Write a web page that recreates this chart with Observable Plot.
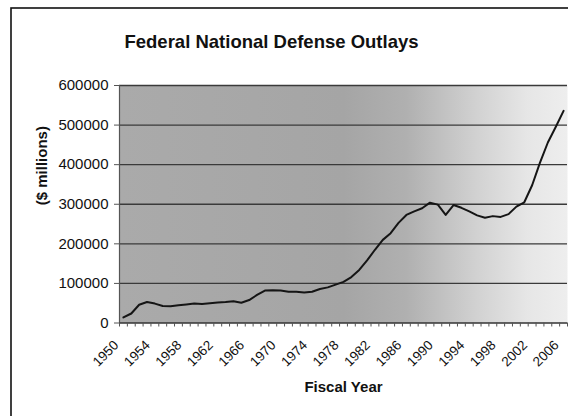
<!DOCTYPE html>
<html>
<head>
<meta charset="utf-8">
<script src="https://cdn.jsdelivr.net/npm/d3@7"></script>
<script src="https://cdn.jsdelivr.net/npm/@observablehq/plot@0.6"></script>
<style>
  html, body { margin: 0; padding: 0; background: #fff; }
  #chart svg { display: block; }
</style>
</head>
<body>
<div id="chart"></div>
<script>
// Federal national defense outlays by fiscal year, $ millions
const years = d3.range(1950, 2007);
const outlays = [
  14000, 24000, 46000, 53000, 49000, 43000, 42500, 45000, 47000, 49000,
  48000, 50000, 52000, 53000, 55000, 51000, 58000, 71000, 82000, 82500,
  82000, 79000, 79000, 77000, 79000, 86000, 90000, 97000, 104000, 116000,
  134000, 158000, 185000, 210000, 227000, 253000, 273000, 282000, 290000, 304000,
  299000, 273000, 298000, 291000, 282000, 272000, 266000, 270000, 268000, 275000,
  294000, 305000, 348000, 405000, 456000, 495000, 536000
];
const yTicks = [0, 100000, 200000, 300000, 400000, 500000, 600000];
const labelYears = d3.range(1950, 2007, 4);
const title = "Federal National Defense Outlays";
const yTitle = "($ millions)";
const xTitle = "Fiscal Year";

const data = years.map((year, i) => ({year, value: outlays[i]}));
// category boundaries, one tick between each pair of years
const bounds = d3.range(years[0] - 0.5, years[years.length - 1] + 1, 1);

const font = "'Liberation Sans', Arial, Helvetica, sans-serif";

const chart = Plot.plot({
  width: 568,
  height: 416,
  marginLeft: 119,
  marginRight: 1,
  marginTop: 85,
  marginBottom: 93.5,
  style: {fontFamily: font, background: "#fff", color: "#111", overflow: "visible"},
  x: {domain: [years[0] - 0.5, years[years.length - 1] + 0.5], axis: null},
  y: {domain: [0, 600000], axis: null},
  marks: [
    Plot.frame({fill: "url(#plotShade)", stroke: null}),
    Plot.ruleY(yTicks.filter(d => d > 0), {stroke: "#3a3a3a", strokeWidth: 1.3}),
    Plot.ruleX([bounds[0]], {stroke: "#555", strokeWidth: 1.2}),
    Plot.ruleY([0], {stroke: "#333", strokeWidth: 1.3}),
    Plot.axisX({ticks: bounds, tickSize: 4, tickFormat: () => "", label: null, stroke: "#555"}),
    Plot.axisY({ticks: yTicks, tickSize: 5, tickPadding: 6, tickFormat: d => String(d),
                label: null, fontSize: 15, fill: "#111", stroke: "#555"}),
    Plot.text(labelYears, {x: d => d, text: d => String(d), frameAnchor: "bottom",
                           dx: -4, dy: 23, rotate: -45, textAnchor: "end",
                           fontSize: 13.5, fill: "#111"}),
    Plot.line(data, {x: "year", y: "value", stroke: "#151515", strokeWidth: 2}),
    Plot.text([title], {text: d => d, frameAnchor: "top", dx: -72, dy: -51,
                        fontWeight: "bold", fontSize: 18.5, fill: "#111"}),
    Plot.text([yTitle], {text: d => d, frameAnchor: "left", dx: -77, dy: 1, rotate: -90,
                         fontWeight: "bold", fontSize: 15, fill: "#111"}),
    Plot.text([xTitle], {text: d => d, frameAnchor: "bottom", dy: 69,
                         fontWeight: "bold", fontSize: 15, fill: "#111"})
  ]
});

// horizontal shading of the plotting area: gray on the left fading to near white
const svg = d3.select(chart);
const grad = svg.insert("defs", ":first-child")
  .append("linearGradient")
  .attr("id", "plotShade")
  .attr("x1", 0).attr("x2", 1).attr("y1", 0).attr("y2", 0);
[
  [0.00, "#aaaaaa"],
  [0.50, "#a5a5a5"],
  [0.64, "#b0b0b0"],
  [0.80, "#d2d2d2"],
  [0.91, "#e6e6e6"],
  [1.00, "#eeeeee"]
].forEach(([o, c]) => grad.append("stop").attr("offset", o).attr("stop-color", c));

// chart-area border
svg.append("rect")
  .attr("x", 11).attr("y", 8)
  .attr("width", 640).attr("height", 460)
  .attr("fill", "none")
  .attr("stroke", "#111")
  .attr("stroke-width", 1.6);

document.getElementById("chart").append(chart);
</script>
</body>
</html>
